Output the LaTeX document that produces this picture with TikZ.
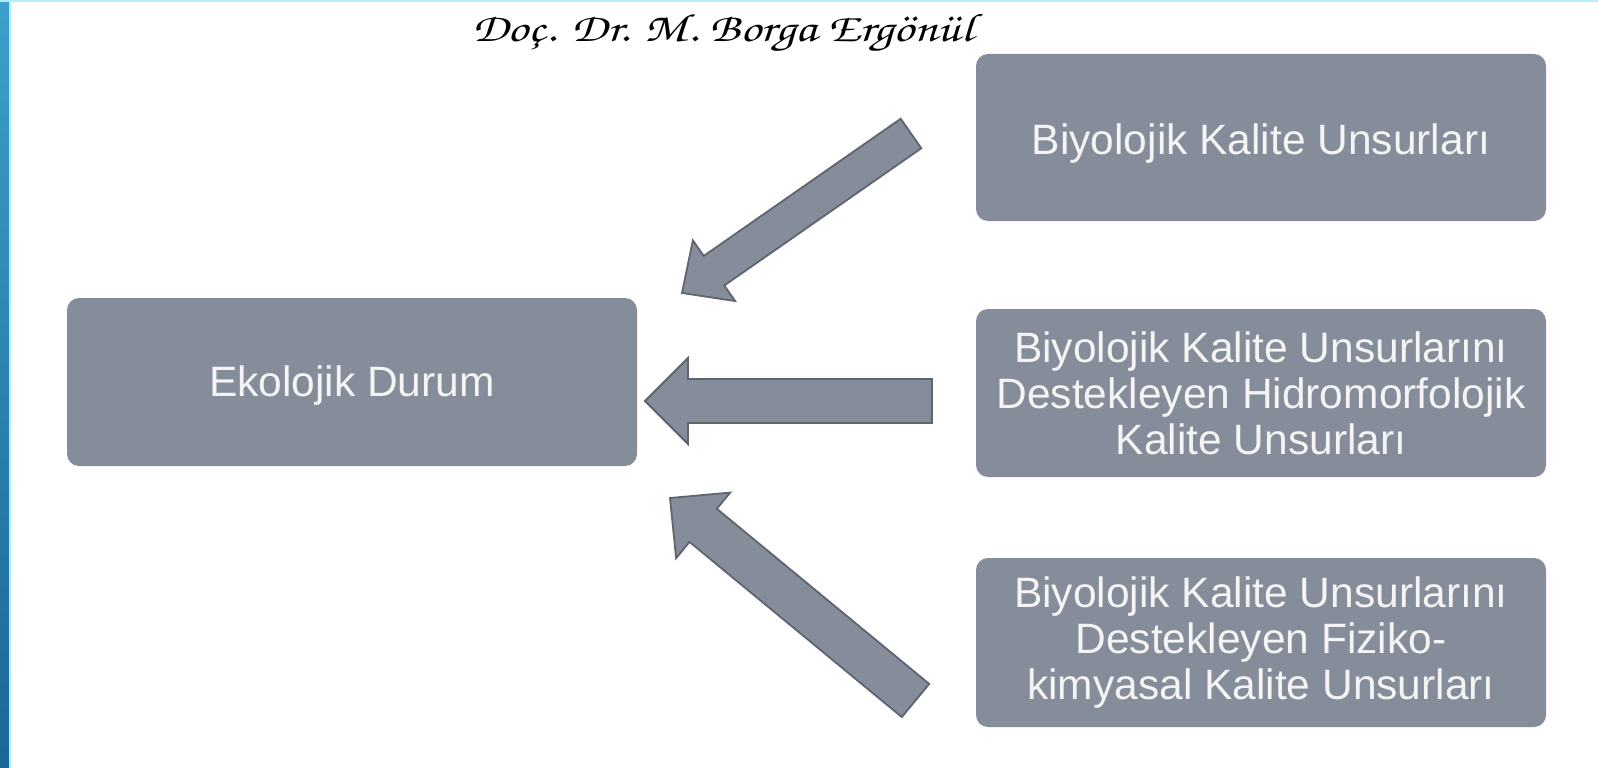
\documentclass[tikz,border=0pt]{standalone}
\usepackage{fontspec}
\setmainfont{Liberation Sans}
\newfontfamily\handfont{texgyrechorus-mediumitalic.otf}
\usetikzlibrary{calc}
\definecolor{boxgray}{HTML}{858D9A}
\definecolor{arrowedge}{HTML}{5E6570}
\definecolor{boxtext}{HTML}{F4F4F4}
\definecolor{bartop}{HTML}{3C9FCC}
\definecolor{barbot}{HTML}{1C679A}
\definecolor{edgecyan}{HTML}{B4ECFA}
\tikzset{
  box/.style={fill=boxgray, rounded corners=12pt, minimum width=570pt, inner sep=0pt,
    align=center, text=boxtext, font=\fontsize{42.5}{46}\selectfont},
  arrowblock/.style={fill=boxgray, draw=arrowedge, line width=1.8pt, line join=miter}
}
\newcommand\lowertext[2]{\raisebox{-#1}[\height][\depth]{#2}}
\newcommand\blockarrow[5]{%
  \coordinate (ba-b) at ($(#2)!#5!(#1)$);
  \draw[arrowblock] ($(#1)!#3!90:(#2)$) -- ($(ba-b)!#3!90:(#2)$) -- ($(ba-b)!#4!90:(#2)$)
    -- (#2) -- ($(ba-b)!#4!-90:(#2)$) -- ($(ba-b)!#3!-90:(#2)$) -- ($(#1)!#3!-90:(#2)$) -- cycle;}
\begin{document}
\begin{tikzpicture}[x=1pt,y=-1pt]
\useasboundingbox (0,0) rectangle (1598,768);
\fill[white] (0,0) rectangle (1598,768);
% frame
\shade[top color=bartop, bottom color=barbot] (0,0) rectangle (9,768);
\fill[edgecyan] (9,0) rectangle (11,768);
\fill[edgecyan] (0,0) rectangle (1598,2);
% title
\node[anchor=base west, inner sep=0pt] (title) at (472,42)
  {\resizebox{501pt}{27pt}{\handfont Doç. Dr. M. Borga Ergönül}};
% boxes
\node[box, minimum height=168pt] (eco) at (352,382) {\lowertext{4pt}{Ekolojik Durum}};
\node[box, minimum height=167pt] (b1) at (1261,137.5) {\lowertext{6pt}{Biyolojik Kalite Unsurları}};
\node[box, minimum height=168pt] (b2) at (1261,393)
  {Biyolojik Kalite Unsurlarını\\Destekleyen Hidromorfolojik\\Kalite Unsurları};
\node[box, minimum height=169pt] (b3) at (1261,642.5)
  {Biyolojik Kalite Unsurlarını\\Destekleyen Fiziko-\\kimyasal Kalite Unsurları};
% arrows
\coordinate (a1tail) at (911,133.5);
\coordinate (a1tip) at (682,293);
\coordinate (a2tail) at (932,401);
\coordinate (a2tip) at (645,401);
\coordinate (a3tail) at (915.5,700.5);
\coordinate (a3tip) at (670,498);
\blockarrow{a1tail}{a1tip}{18pt}{37pt}{39pt}
\blockarrow{a2tail}{a2tip}{22pt}{43pt}{43pt}
\blockarrow{a3tail}{a3tip}{21.5pt}{42.5pt}{43pt}
\end{tikzpicture}
\end{document}
